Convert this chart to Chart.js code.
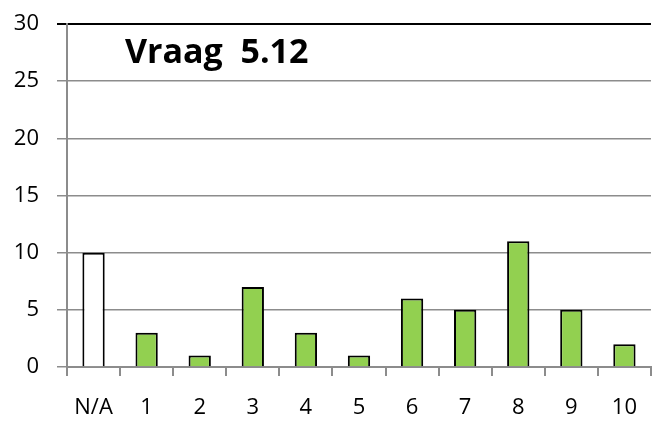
<!DOCTYPE html>
<html>
<head>
<meta charset="utf-8">
<script src="https://cdn.jsdelivr.net/npm/chart.js@4"></script>
<style>
  html, body { margin: 0; padding: 0; background: #fff; }
  #wrap { width: 656px; height: 421px; }
</style>
</head>
<body>
<div id="wrap"><canvas id="vraagChart" width="656" height="421"></canvas></div>
<script>
const categories = ["N/A", "1", "2", "3", "4", "5", "6", "7", "8", "9", "10"];
const counts = [10, 3, 1, 7, 3, 1, 6, 5, 11, 5, 2];
const chartTitle = "Vraag  5.12";

const barColors = categories.map(c => c === "N/A" ? "#ffffff" : "#92d050");

// title drawn inside the plot area, top left
const innerTitle = {
    id: "innerTitle",
    afterDraw(chart) {
        const { ctx, chartArea } = chart;
        ctx.save();
        ctx.font = "bold 34px 'Open Sans', sans-serif";
        ctx.fillStyle = "#000";
        ctx.textBaseline = "middle";
        ctx.fillText(chartTitle, chartArea.left + 58, chartArea.top + 29);
        ctx.restore();
    }
};

const ctx = document.getElementById("vraagChart").getContext("2d");
const vraagChart = new Chart(ctx, {
    type: "bar",
    data: {
        labels: categories,
        datasets: [{
            data: counts,
            backgroundColor: barColors,
            borderColor: "#000",
            borderWidth: 2,
            borderSkipped: "bottom",
            categoryPercentage: 1,
            barPercentage: 0.42
        }]
    },
    options: {
        responsive: false,
        animation: false,
        layout: { padding: { top: 24, right: 0, left: 0, bottom: 0 } },
        plugins: {
            legend: { display: false },
            tooltip: { enabled: false }
        },
        scales: {
            x: {
                afterFit: s => { s.height = 54; },
                grid: {
                    offset: true,
                    drawOnChartArea: false,
                    tickLength: 9,
                    color: "#8c8c8c",
                    lineWidth: 2
                },
                border: { color: "#8c8c8c", width: 2 },
                ticks: {
                    color: "#000",
                    padding: 19,
                    maxRotation: 0,
                    font: { family: "'Open Sans', sans-serif", size: 22 }
                }
            },
            y: {
                min: 0,
                max: 30,
                afterFit: s => { s.width = 67; s.paddingTop = 0; },
                ticks: {
                    stepSize: 5,
                    color: "#000",
                    padding: 18,
                    font: { family: "'Open Sans', sans-serif", size: 22 }
                },
                grid: {
                    tickLength: 10,
                    color: c => c.tick && c.tick.value === 30 ? "#000" : "#8c8c8c",
                    lineWidth: c => c.tick && c.tick.value === 30 ? 2 : 1.5
                },
                border: { color: "#8c8c8c", width: 2 }
            }
        }
    },
    plugins: [innerTitle]
});
</script>
</body>
</html>
